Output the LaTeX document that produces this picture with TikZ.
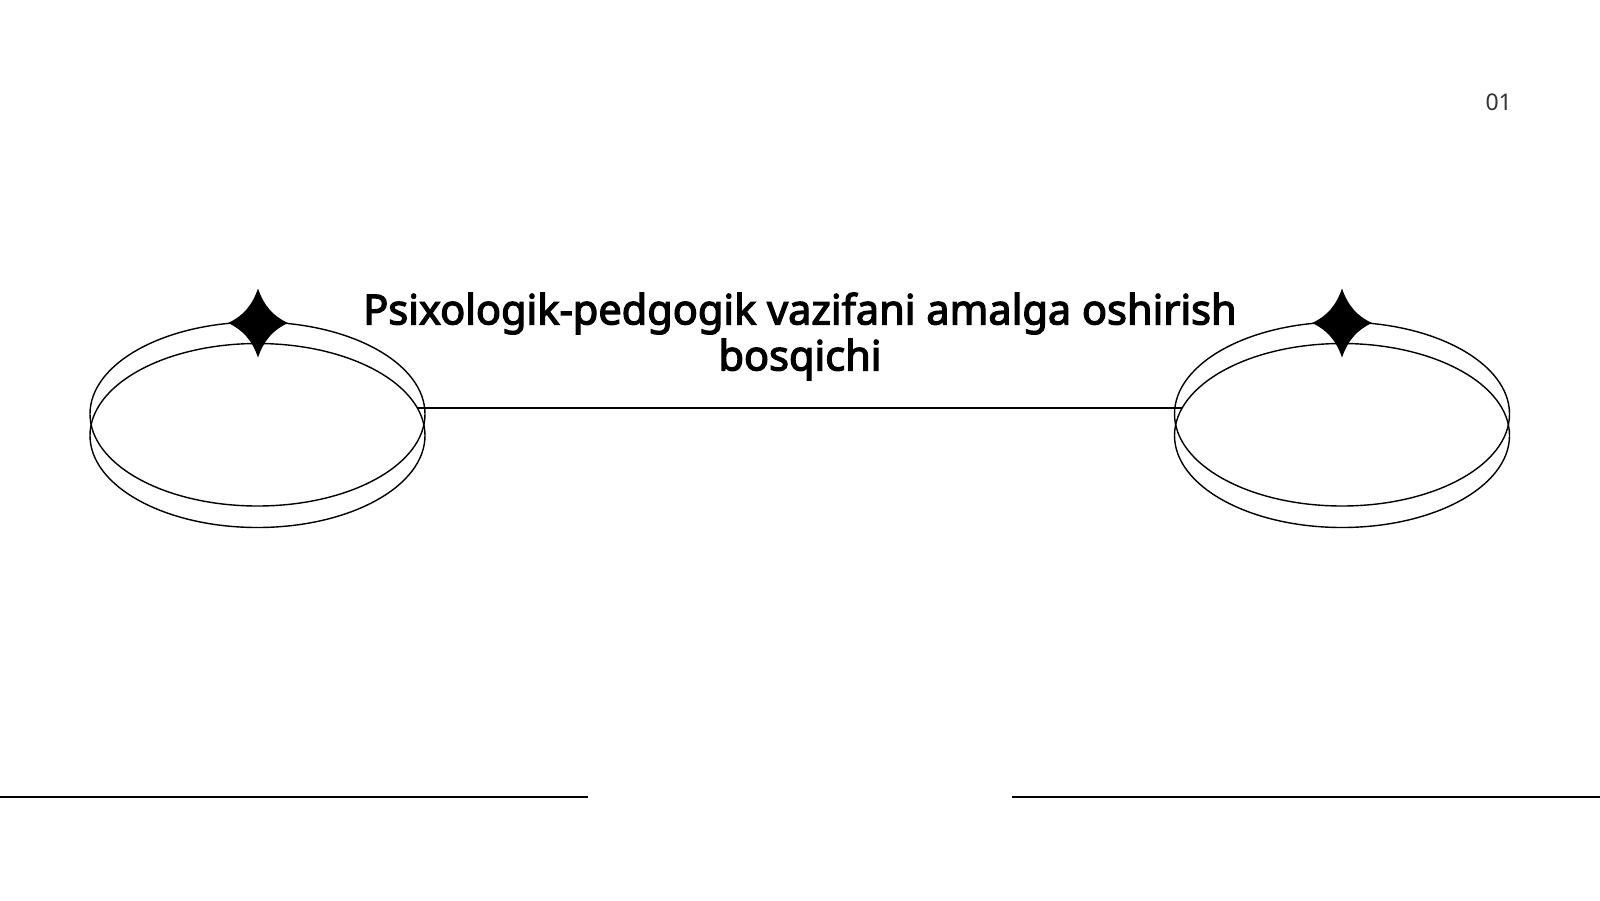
\documentclass[tikz,border=0pt]{standalone}
\usepackage{fontspec}
\setmainfont{Noto Sans}
\newfontfamily\titlefont{Noto Sans}[AutoFakeBold=3]
\usetikzlibrary{shapes.geometric}
\tikzset{
  ring/.style={draw=black, line width=1.4pt, ellipse, minimum width=335pt, minimum height=184pt, inner sep=0pt},
  rule/.style={draw=black, line width=1.4pt},
  sparkle/.pic={
    \fill[black] (0,-34.5) .. controls (6,-17.25) and (15,-6.9) .. (30,0)
      .. controls (15,6.9) and (6,17.25) .. (0,34.5)
      .. controls (-6,17.25) and (-15,6.9) .. (-30,0)
      .. controls (-15,-6.9) and (-6,-17.25) .. cycle;
  },
  title/.style={font=\titlefont\bfseries\fontsize{41.5}{46}\selectfont, align=center, inner sep=0pt},
  pagenum/.style={font=\fontsize{23}{26}\selectfont, text=black!80, inner sep=0pt}
}
\begin{document}
\begin{tikzpicture}[x=1pt,y=-1pt]
\useasboundingbox[fill=white] (0,0) rectangle (1600,900);
% left pair of rings
\node[ring] (lA) at (257.5,414) {};
\node[ring] (lB) at (257.5,435.5) {};
\pic (lS) at (258,323) {sparkle};
% right pair of rings
\node[ring] (rA) at (1342,414) {};
\node[ring] (rB) at (1342,435.5) {};
\pic (rS) at (1342,323) {sparkle};
% connector
\coordinate (cL) at (416.8,408);
\coordinate (cR) at (1182.3,408);
\draw[rule] (cL) -- (cR);
% title
\node[title, anchor=base] (t) at (800,370.4) {Psixologik-pedgogik vazifani amalga oshirish\\bosqichi};
% page number
\node[pagenum, anchor=base east] (n) at (1512,110) {01};
% bottom rules
\coordinate (b1) at (0,797);
\coordinate (b2) at (588,797);
\coordinate (b3) at (1012,797);
\coordinate (b4) at (1600,797);
\draw[rule] (b1) -- (b2);
\draw[rule] (b3) -- (b4);
\end{tikzpicture}
\end{document}
